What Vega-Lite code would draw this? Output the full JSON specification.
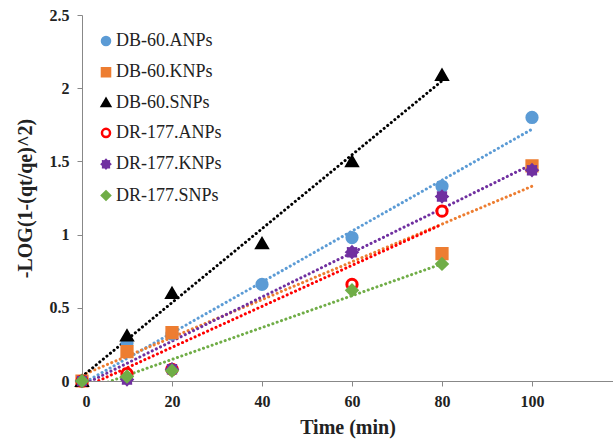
{
  "$schema": "https://vega.github.io/schema/vega-lite/v6.json",
  "width": 531,
  "height": 366,
  "autosize": {"type": "none"},
  "padding": {"left": 82, "top": 15, "right": 0, "bottom": 61},
  "background": "white",
  "config": {
    "view": {"stroke": null},
    "font": "Liberation Serif",
    "axis": {
      "grid": false,
      "domainColor": "#888888",
      "tickColor": "#888888",
      "tickSize": 5,
      "labelFont": "Liberation Serif",
      "labelFontWeight": "bold",
      "labelFontSize": 16,
      "labelColor": "#222222",
      "titleFont": "Liberation Serif",
      "titleFontWeight": "bold",
      "titleFontSize": 20,
      "titleColor": "#222222"
    },
    "legend": {
      "orient": "none",
      "legendX": 15,
      "legendY": 17,
      "labelFont": "Liberation Serif",
      "labelFontSize": 18,
      "labelColor": "#222222",
      "symbolSize": 65,
      "symbolStrokeWidth": 2.5,
      "rowPadding": 11.3,
      "labelOffset": 1
    }
  },
  "datasets": {
    "pts": [
      {"series": "DB-60.ANPs", "time": 0, "value": 0},
      {"series": "DB-60.ANPs", "time": 10, "value": 0.26},
      {"series": "DB-60.ANPs", "time": 20, "value": 0.32},
      {"series": "DB-60.ANPs", "time": 40, "value": 0.66},
      {"series": "DB-60.ANPs", "time": 60, "value": 0.98},
      {"series": "DB-60.ANPs", "time": 80, "value": 1.33},
      {"series": "DB-60.ANPs", "time": 100, "value": 1.80},
      {"series": "DB-60.KNPs", "time": 0, "value": 0},
      {"series": "DB-60.KNPs", "time": 10, "value": 0.2},
      {"series": "DB-60.KNPs", "time": 20, "value": 0.33},
      {"series": "DB-60.KNPs", "time": 80, "value": 0.87},
      {"series": "DB-60.KNPs", "time": 100, "value": 1.47},
      {"series": "DB-60.SNPs", "time": 0, "value": 0},
      {"series": "DB-60.SNPs", "time": 10, "value": 0.31},
      {"series": "DB-60.SNPs", "time": 20, "value": 0.6},
      {"series": "DB-60.SNPs", "time": 40, "value": 0.94},
      {"series": "DB-60.SNPs", "time": 60, "value": 1.5},
      {"series": "DB-60.SNPs", "time": 80, "value": 2.09},
      {"series": "DR-177.ANPs", "time": 0, "value": 0},
      {"series": "DR-177.ANPs", "time": 10, "value": 0.05},
      {"series": "DR-177.ANPs", "time": 20, "value": 0.08},
      {"series": "DR-177.ANPs", "time": 60, "value": 0.66},
      {"series": "DR-177.ANPs", "time": 80, "value": 1.16},
      {"series": "DR-177.KNPs", "time": 0, "value": 0},
      {"series": "DR-177.KNPs", "time": 10, "value": 0.01},
      {"series": "DR-177.KNPs", "time": 20, "value": 0.08},
      {"series": "DR-177.KNPs", "time": 60, "value": 0.88},
      {"series": "DR-177.KNPs", "time": 80, "value": 1.26},
      {"series": "DR-177.KNPs", "time": 100, "value": 1.44},
      {"series": "DR-177.SNPs", "time": 0, "value": 0},
      {"series": "DR-177.SNPs", "time": 10, "value": 0.03},
      {"series": "DR-177.SNPs", "time": 20, "value": 0.07},
      {"series": "DR-177.SNPs", "time": 60, "value": 0.62},
      {"series": "DR-177.SNPs", "time": 80, "value": 0.8}
    ],
    "trend": [
      {"series": "DB-60.ANPs", "time": 0, "value": -0.02},
      {"series": "DB-60.ANPs", "time": 100, "value": 1.72},
      {"series": "DB-60.KNPs", "time": 0, "value": 0.04},
      {"series": "DB-60.KNPs", "time": 100, "value": 1.33},
      {"series": "DB-60.SNPs", "time": 0, "value": 0.03},
      {"series": "DB-60.SNPs", "time": 80, "value": 2.05},
      {"series": "DR-177.ANPs", "time": 0, "value": -0.05},
      {"series": "DR-177.ANPs", "time": 80, "value": 1.07},
      {"series": "DR-177.KNPs", "time": 0, "value": -0.03},
      {"series": "DR-177.KNPs", "time": 100, "value": 1.48},
      {"series": "DR-177.SNPs", "time": 0, "value": -0.07},
      {"series": "DR-177.SNPs", "time": 80, "value": 0.8}
    ]
  },
  "layer": [
    {
      "data": {"name": "trend"},
      "mark": {"type": "line", "clip": true, "strokeWidth": 3, "strokeDash": [0.1, 4.5], "strokeCap": "round"},
      "encoding": {
        "x": {"field": "time", "type": "quantitative", "scale": {"domain": [0, 118], "nice": false}, "axis": {"values": [0, 20, 40, 60, 80, 100], "title": "Time (min)", "labelPadding": 7, "titlePadding": 8}},
        "y": {"field": "value", "type": "quantitative", "scale": {"domain": [0, 2.5], "nice": false}, "axis": {"values": [0, 0.5, 1, 1.5, 2, 2.5], "format": "~g", "title": "-LOG(1-(qt/qe)^2)", "labelPadding": 8, "titlePadding": 14}},
        "detail": {"field": "series"},
        "color": {"field": "series", "type": "nominal", "legend": null,
          "scale": {"domain": ["DB-60.ANPs", "DB-60.KNPs", "DB-60.SNPs", "DR-177.ANPs", "DR-177.KNPs", "DR-177.SNPs"],
                    "range": ["#5B9BD5", "#ED7D31", "#000000", "#FF0000", "#7030A0", "#70AD47"]}}
      }
    },
    {
      "data": {"name": "pts"},
      "mark": {"type": "point", "filled": true, "opacity": 1, "strokeWidth": 3, "size": 105, "clip": false},
      "encoding": {
        "x": {"field": "time", "type": "quantitative"},
        "y": {"field": "value", "type": "quantitative"},
        "shape": {"field": "series", "type": "nominal", "title": null,
          "scale": {"domain": ["DB-60.ANPs", "DB-60.KNPs", "DB-60.SNPs", "DR-177.ANPs", "DR-177.KNPs", "DR-177.SNPs"],
                    "range": ["circle", "square", "triangle-up", "circle", "M1,0L0.69,0.29L0.71,0.71L0.29,0.69L0,1L-0.29,0.69L-0.71,0.71L-0.69,0.29L-1,0L-0.69,-0.29L-0.71,-0.71L-0.29,-0.69L0,-1L0.29,-0.69L0.71,-0.71L0.69,-0.29Z", "diamond"]}},
        "fill": {"field": "series", "type": "nominal", "title": null,
          "scale": {"domain": ["DB-60.ANPs", "DB-60.KNPs", "DB-60.SNPs", "DR-177.ANPs", "DR-177.KNPs", "DR-177.SNPs"],
                    "range": ["#5B9BD5", "#ED7D31", "#000000", "#FFFFFF", "#7030A0", "#70AD47"]}},
        "stroke": {"field": "series", "type": "nominal", "title": null,
          "scale": {"domain": ["DB-60.ANPs", "DB-60.KNPs", "DB-60.SNPs", "DR-177.ANPs", "DR-177.KNPs", "DR-177.SNPs"],
                    "range": ["#5B9BD5", "#ED7D31", "#000000", "#FF0000", "#7030A0", "#70AD47"]}}
      }
    }
  ],
  "resolve": {"scale": {"color": "independent"}}
}
